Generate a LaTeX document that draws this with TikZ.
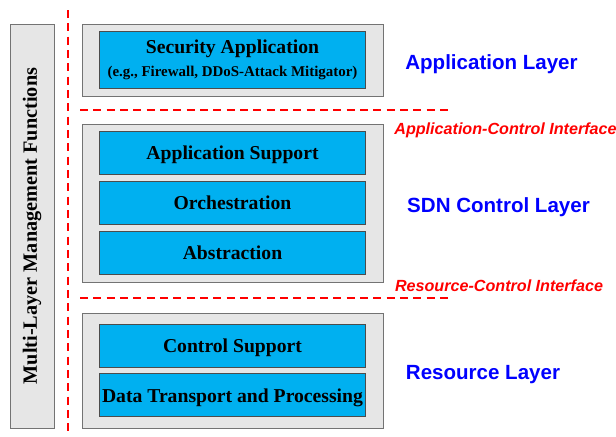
\documentclass[tikz,border=0pt]{standalone}
\usepackage{fontspec}
\setmainfont{Liberation Serif}
\newfontfamily\labelfont{Liberation Sans}
\usepackage{tikz}
\usetikzlibrary{positioning,calc}
\definecolor{boxblue}{HTML}{00B0F0}
\definecolor{layergray}{HTML}{E6E6E6}
\definecolor{labelblue}{HTML}{0000FF}

\begin{document}
\begin{tikzpicture}[x=0.75pt, y=-0.75pt, semithick]
		\tikzstyle{layer}=[draw=black!55,fill=layergray,minimum width=225.75pt]
		\tikzstyle{block}=[draw=black!70,fill=boxblue,minimum width=200pt,minimum height=32.25pt,
			font=\bfseries\fontsize{14.75}{16}\selectfont,inner sep=1pt,text depth=0pt]
		\tikzstyle{layername}=[text=labelblue,font=\labelfont\bfseries\fontsize{15.4}{17}\selectfont]
		\tikzstyle{iface}=[text=red,font=\labelfont\bfseries\itshape\fontsize{12.1}{14}\selectfont]
		\tikzstyle{border}=[red,line width=1.5pt,dash pattern=on 6pt off 4pt]

		\useasboundingbox (0,0) rectangle (616,436);

		% management column and layer separators
		\node[draw=black!55,fill=layergray,rotate=90,minimum width=303pt,minimum height=33pt,
			font=\bfseries\fontsize{15.2}{17}\selectfont] (mgmt) at (32,226) {Multi-Layer Management Functions};
		\draw[border] (68,10) -- (68,436);
		\draw[border] (80,110) -- (452,110);
		\draw[border] (80,298) -- (452,298);

		% application layer
		\node[layer,minimum height=54pt] (applayer) at (232.5,60) {};
		\node[block,minimum height=42.75pt,align=center,text depth=] (secapp) at (232.5,59.5) {Security Application\\[1pt]
			{\fontsize{11.2}{13}\selectfont (e.g., Firewall, DDoS-Attack Mitigator)}};

		% control layer
		\node[layer,minimum height=118.5pt] (ctrllayer) at (232.5,203) {};
		\node[block] (appsupport) at (232.5,153) {Application Support};
		\node[block] (orch) [below=4.5pt of appsupport] {Orchestration};
		\node[block] (abstr) [below=4.5pt of orch] {Abstraction};

		% resource layer
		\node[layer,minimum height=86.25pt] (reslayer) at (232.5,370.5) {};
		\node[block] (ctrlsupport) at (232.5,345.5) {Control Support};
		\node[block] (datatrans) [below=4.5pt of ctrlsupport] {Data Transport and Processing};

		% layer names and interfaces
		\node[layername] (appname) at (491.5,64) {Application Layer};
		\node[layername] (ctrlname) at (498.5,207) {SDN Control Layer};
		\node[layername] (resname) at (483,375) {Resource Layer};
		\node[iface] (appiface) at (505.5,130) {Application-Control Interface};
		\node[iface] (resiface) at (499,286) {Resource-Control Interface};
	\end{tikzpicture}
\end{document}
